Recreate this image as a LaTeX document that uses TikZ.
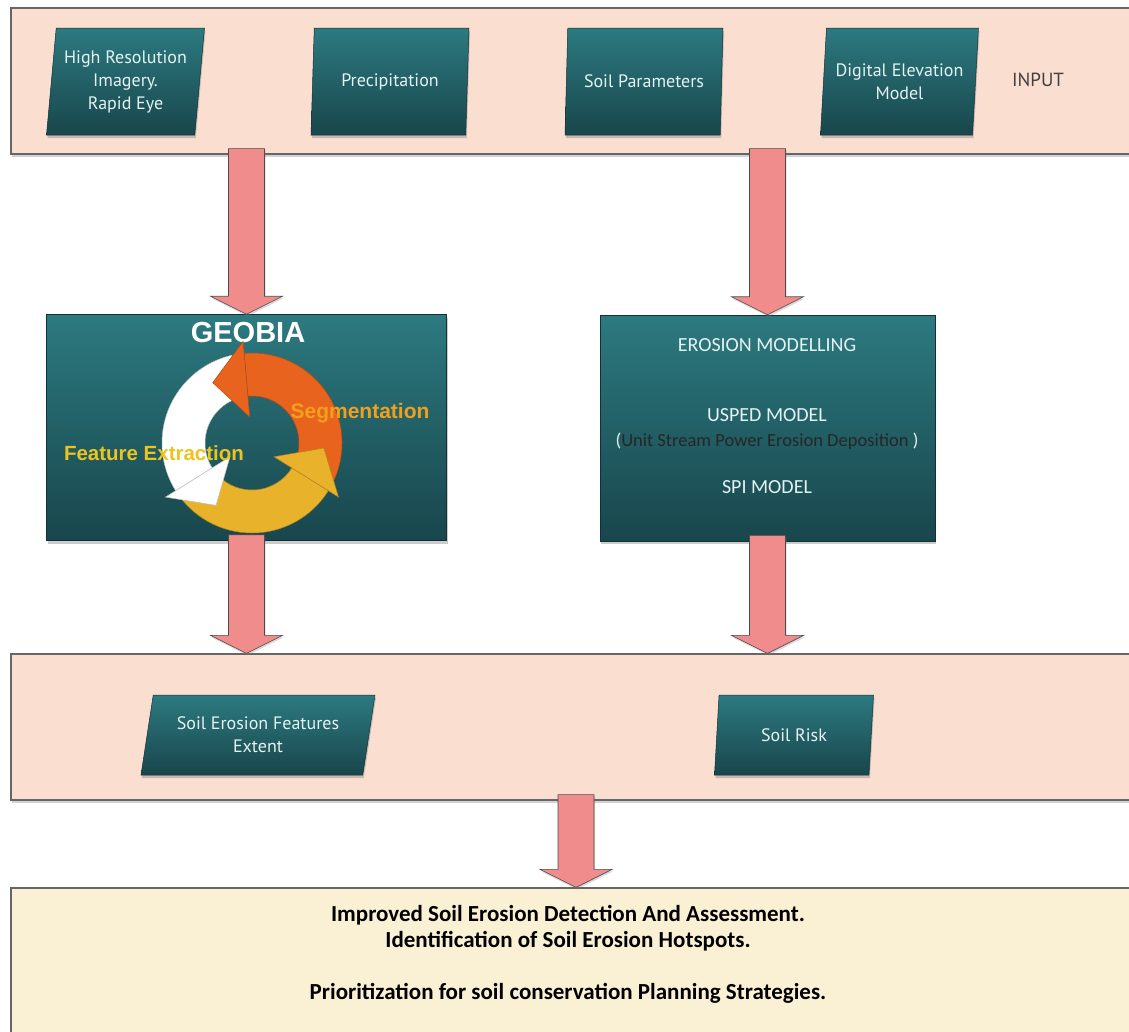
\documentclass[tikz,border=0pt]{standalone}
\usepackage{fontspec}
\setmainfont{PT Sans}
\newfontfamily\calfont{Carlito}
\newfontfamily\arfont{Liberation Sans}
\usetikzlibrary{shapes.geometric,shadows,calc}

\definecolor{bandpeach}{RGB}{250,222,208}
\definecolor{bandcream}{RGB}{250,240,212}
\definecolor{tealtop}{RGB}{44,122,128}
\definecolor{tealbot}{RGB}{24,70,76}
\definecolor{pinkfill}{RGB}{240,140,140}
\definecolor{cycorange}{RGB}{232,100,30}
\definecolor{cycyellow}{RGB}{232,178,42}
\definecolor{segtext}{RGB}{242,160,28}
\definecolor{fetext}{RGB}{236,196,30}
\definecolor{boxtext}{RGB}{228,242,242}

% block arrow from #1 down to #2
\newcommand{\pinkarrow}[2]{%
  \path (#1) coordinate (pa) (#2) coordinate (pb);
  \draw[pinkarr] ($(pa)+(-18,-6)$) -- ($(pb)+(-18,-18)$) -- ($(pb)+(-36,-18)$) -- (pb)
    -- ($(pb)+(36,-18)$) -- ($(pb)+(18,-18)$) -- ($(pa)+(18,-6)$) -- cycle;}

\tikzset{
  band/.style={rectangle,draw=black!60,line width=1.2pt,minimum width=1130,
    drop shadow={shadow xshift=1pt,shadow yshift=-3pt,opacity=0.35}},
  databox/.style={trapezium,trapezium stretches body,trapezium left angle=#1,
    trapezium right angle={180-#1},top color=tealtop,bottom color=tealbot,
    draw=tealbot!70!black,line width=0.5pt,text=boxtext,align=center,
    font=\fontsize{18}{23}\selectfont,
    drop shadow={shadow xshift=1pt,shadow yshift=-3pt,opacity=0.4}},
  procbox/.style={rectangle,top color=tealtop,bottom color=tealbot,
    draw=tealbot!70!black,line width=0.5pt,
    drop shadow={shadow xshift=1pt,shadow yshift=-3pt,opacity=0.4}},
  pinkarr/.style={fill=pinkfill,draw=black!70,line width=0.6pt,
    drop shadow={shadow xshift=1pt,shadow yshift=-2pt,opacity=0.3}},
  modeltext/.style={text=boxtext,font=\calfont\fontsize{20}{22}\selectfont},
  restext/.style={font=\calfont\bfseries\fontsize{23}{25}\selectfont}
}

\begin{document}
\begin{tikzpicture}[x=1pt,y=-1pt]
\useasboundingbox (0,0) rectangle (1129,1031);

% bands
\node[band,fill=bandpeach,minimum height=146] (inband) at (576,81) {};
\node[band,fill=bandpeach,minimum height=146] (outband) at (576,727) {};
\node[band,fill=bandcream,minimum height=152] (resband) at (576,964) {};

% inputs
\node[databox=82,minimum width=158,minimum height=107] (imagery) at (125.5,81.5) {High Resolution\\Imagery.\\Rapid Eye};
\node[databox=82,minimum width=158,minimum height=107] (precip) at (390,81.5) {Precipitation};
\node[databox=82,minimum width=158,minimum height=107] (soilpar) at (644,81.5) {Soil Parameters};
\node[databox=82,minimum width=158,minimum height=107] (dem) at (899.5,81.5) {Digital Elevation\\Model};
\node[text=black!75,font=\fontsize{19}{21}\selectfont] (inputlbl) at (1038,80) {INPUT};

% processing
\node[procbox,minimum width=400,minimum height=226] (geobia) at (246.5,427.5) {};
\node[procbox,minimum width=335,minimum height=226] (erosion) at (767.5,428) {};

\node[text=white,font=\arfont\bfseries\fontsize{29}{31}\selectfont] (geobialbl) at (248,333) {GEOBIA};

% cycle
\begin{scope}[shift={(252,443)},yscale=-1]
\foreach \a/\b/\c in {-28/95/cycorange,102/212/white,218/328/cycyellow}
  \draw[fill=\c,draw=\c!75!black,line width=0.5pt] (\a:90) arc[start angle=\a,end angle=\b,radius=90]
    -- (\b:47) arc[start angle=\b,end angle=\a,radius=47] -- cycle;
\foreach \a/\b/\c in {-28/95/cycorange,102/212/white,218/328/cycyellow}
  \draw[fill=\c,draw=\c!75!black,line width=0.5pt] (\b:26) -- (\b:102) -- ({\b+28}:72) -- cycle;
\end{scope}
\node[text=segtext,font=\arfont\bfseries\fontsize{21}{23}\selectfont] (seglbl) at (360,413) {Segmentation};
\node[text=fetext,font=\arfont\bfseries\fontsize{20.5}{22}\selectfont] (felbl) at (154,453) {Feature Extraction};

\node[modeltext] (modlbl) at (767,345) {EROSION MODELLING};
\node[modeltext] (usped) at (767,415) {USPED MODEL};
\node[text=black!85,font=\calfont\fontsize{18.5}{20}\selectfont] (uspedlong) at (767,441) {{\color{boxtext}(}Unit Stream Power Erosion Deposition{\color{boxtext}~)}};
\node[modeltext] (spi) at (767,487) {SPI MODEL};

% outputs
\node[databox=74,minimum width=234,minimum height=80] (features) at (258,735) {Soil Erosion Features\\Extent};
\node[databox=77,minimum width=159,minimum height=80] (risk) at (794,735) {Soil Risk};

% result
\node[restext] (res1) at (568,915) {Improved Soil Erosion Detection And Assessment.};
\node[restext] (res2) at (568,941) {Identification of Soil Erosion Hotspots.};
\node[restext] (res3) at (568,993) {Prioritization for soil conservation Planning Strategies.};

% arrows
\pinkarrow{inband.south -| geobia.north}{geobia.north}
\pinkarrow{inband.south -| erosion.north}{erosion.north}
\pinkarrow{geobia.south}{geobia.south |- outband.north}
\pinkarrow{erosion.south}{erosion.south |- outband.north}
\pinkarrow{outband.south}{resband.north}
\end{tikzpicture}
\end{document}
